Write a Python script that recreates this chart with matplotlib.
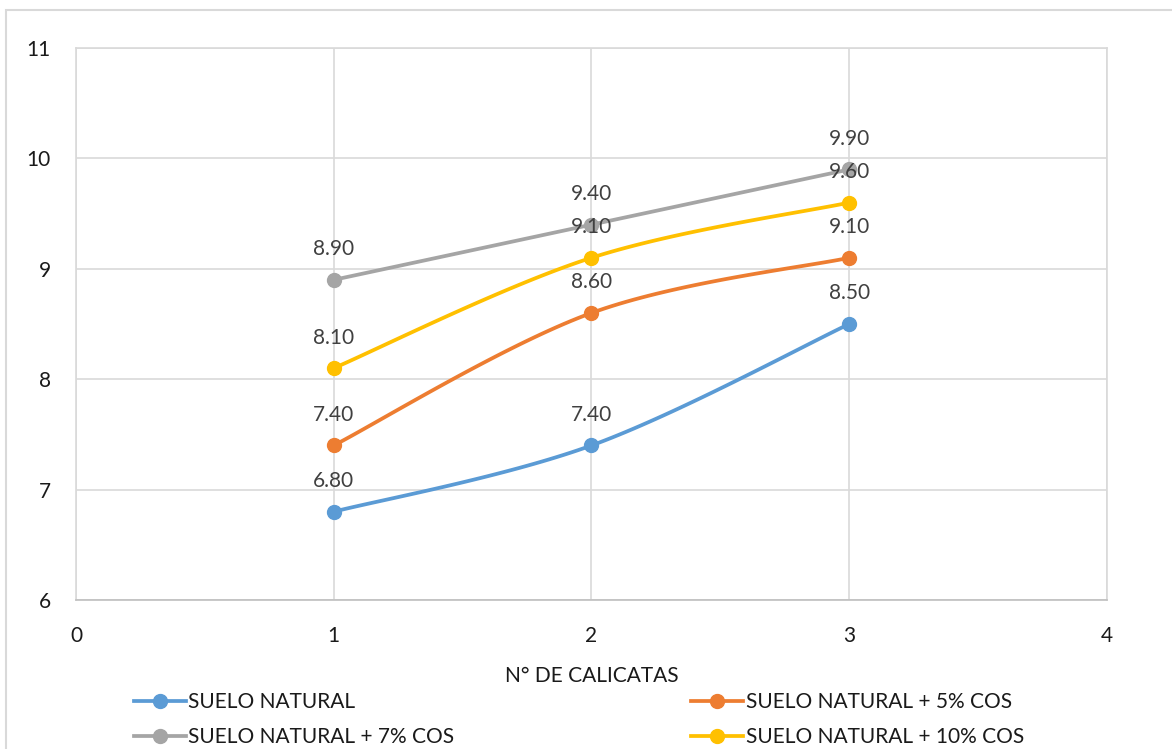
import numpy as np
import matplotlib
matplotlib.use("Agg")
import matplotlib.pyplot as plt
from matplotlib.lines import Line2D
from matplotlib.patches import Rectangle

plt.rcParams['font.family'] = ['Lato', 'DejaVu Sans']

calicatas = [1, 2, 3]
suelo_natural = [6.80, 7.40, 8.50]
suelo_5 = [7.40, 8.60, 9.10]
suelo_7 = [8.90, 9.40, 9.90]
suelo_10 = [8.10, 9.10, 9.60]

series = [
    ("SUELO NATURAL", suelo_natural, "#5B9BD5"),
    ("SUELO NATURAL + 5% COS", suelo_5, "#ED7D31"),
    ("SUELO NATURAL + 7% COS", suelo_7, "#A5A5A5"),
    ("SUELO NATURAL + 10% COS", suelo_10, "#FFC000"),
]

x_ticks = [0, 1, 2, 3, 4]
y_ticks = [6, 7, 8, 9, 10, 11]


def smooth(xs, ys, n=40):
    """Bezier smoothing through all points (Catmull-Rom style control points)."""
    p = np.column_stack([xs, ys]).astype(float)
    ext = np.vstack([p[0], p, p[-1]])
    out = [p[:1]]
    t = np.linspace(0, 1, n)[1:, None]
    for i in range(len(p) - 1):
        p0, p1, p2, p3 = ext[i], ext[i + 1], ext[i + 2], ext[i + 3]
        c1 = p1 + (p2 - p0) / 6.0
        c2 = p2 - (p3 - p1) / 6.0
        seg = ((1 - t) ** 3) * p1 + 3 * ((1 - t) ** 2) * t * c1 + 3 * (1 - t) * t ** 2 * c2 + t ** 3 * p2
        out.append(seg)
    c = np.vstack(out)
    return c[:, 0], c[:, 1]


fig = plt.figure(figsize=(11.72, 7.49), dpi=100)
ax = fig.add_axes([0.0648, 0.1989, 0.8797, 0.737])

# outer chart border
fig.patches.append(Rectangle((6 / 1172, -0.1), 1.2, 1.1 - 10 / 749,
                             transform=fig.transFigure, fill=False,
                             edgecolor="#D9D9D9", linewidth=1.5))

handles = {}
for name, vals, col in series:
    sx, sy = smooth(calicatas, vals)
    ax.plot(sx, sy, color=col, linewidth=2.7, solid_capstyle="round", zorder=3)
    ax.plot(calicatas, vals, linestyle="none", marker="o", markersize=10,
            color=col, zorder=4)
    for xv, yv in zip(calicatas, vals):
        ax.annotate(f"{yv:.2f}", (xv, yv), xytext=(0, 22), textcoords="offset points",
                    ha="center", va="center", fontsize=15, color="#404040", zorder=5)
    handles[name] = Line2D([], [], color=col, linewidth=2.7, marker="o", markersize=10)

ax.set_xlim(0, 4)
ax.set_ylim(6, 11)
ax.set_xticks(x_ticks)
ax.set_yticks(y_ticks)
ax.grid(True, color="#D9D9D9", linewidth=1.2)
ax.set_axisbelow(True)
for s in ["top", "right", "left"]:
    ax.spines[s].set_color("#D9D9D9")
    ax.spines[s].set_linewidth(1.2)
ax.spines["bottom"].set_color("#BFBFBF")
ax.spines["bottom"].set_linewidth(1.2)
ax.tick_params(length=0, labelsize=15, labelcolor="#1a1a1a")
ax.tick_params(axis="x", pad=19)
ax.tick_params(axis="y", pad=18)
ax.set_xlabel("N° DE CALICATAS", fontsize=15, color="#1a1a1a", labelpad=14)

order = ["SUELO NATURAL", "SUELO NATURAL + 7% COS",
         "SUELO NATURAL + 5% COS", "SUELO NATURAL + 10% COS"]
leg = fig.legend([handles[k] for k in order], order, ncol=2, loc="center left",
                 bbox_to_anchor=(0.098, 0.039), frameon=False, fontsize=15,
                 handlelength=2.5, handletextpad=0.1, columnspacing=11.4,
                 labelspacing=0.72, labelcolor="#1a1a1a")

fig.savefig("out.png", dpi=100)
